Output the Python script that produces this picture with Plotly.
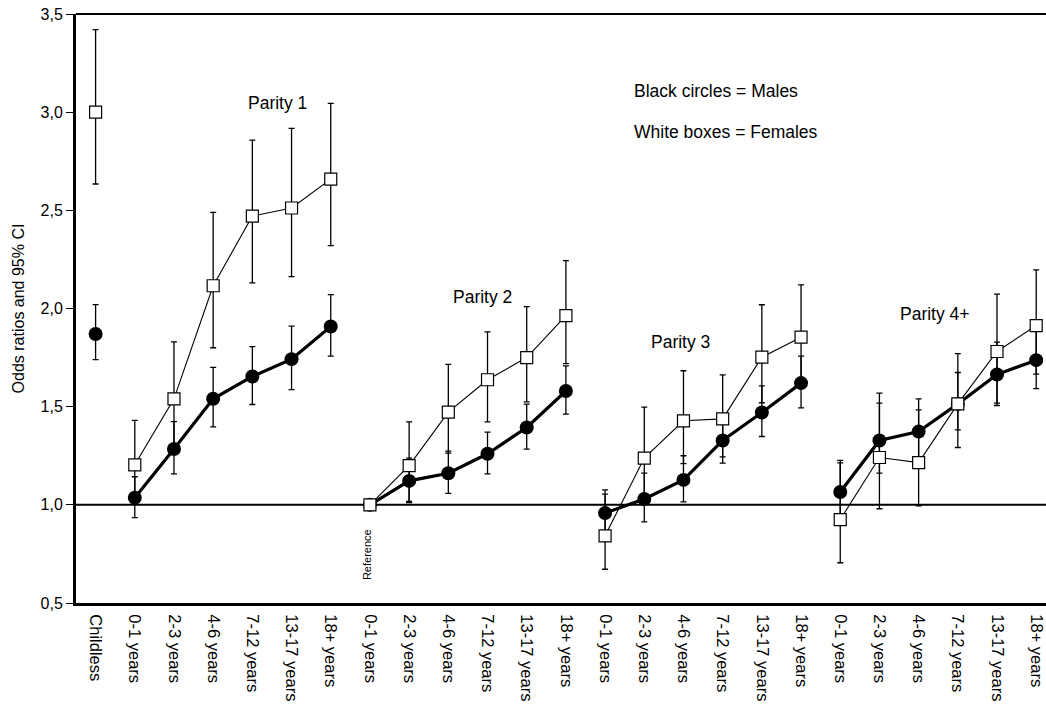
import plotly.graph_objects as go

categories = ["Childless",
              "0-1 years", "2-3 years", "4-6 years", "7-12 years", "13-17 years", "18+ years",
              "0-1 years", "2-3 years", "4-6 years", "7-12 years", "13-17 years", "18+ years",
              "0-1 years", "2-3 years", "4-6 years", "7-12 years", "13-17 years", "18+ years",
              "0-1 years", "2-3 years", "4-6 years", "7-12 years", "13-17 years", "18+ years"]

male_or = [1.87,
           1.036, 1.284, 1.54, 1.654, 1.742, 1.908,
           1.00, 1.122, 1.161, 1.26, 1.394, 1.58,
           0.958, 1.03, 1.127, 1.328, 1.47, 1.62,
           1.065, 1.328, 1.373, 1.514, 1.664, 1.737]
male_lo = [1.74,
           0.935, 1.158, 1.397, 1.511, 1.587, 1.757,
           1.00, 1.017, 1.058, 1.158, 1.284, 1.462,
           0.853, 0.913, 1.015, 1.212, 1.348, 1.494,
           0.925, 1.161, 1.224, 1.382, 1.518, 1.592]
male_hi = [2.02,
           1.143, 1.424, 1.70, 1.806, 1.91, 2.071,
           1.00, 1.238, 1.274, 1.37, 1.513, 1.708,
           1.076, 1.161, 1.25, 1.455, 1.606, 1.757,
           1.226, 1.518, 1.54, 1.674, 1.829, 1.895]

female_or = [3.00,
             1.204, 1.54, 2.116, 2.471, 2.512, 2.659,
             1.00, 1.20, 1.472, 1.637, 1.75, 1.964,
             0.842, 1.238, 1.428, 1.438, 1.752, 1.854,
             0.925, 1.241, 1.215, 1.514, 1.781, 1.913]
female_lo = [2.634,
             1.013, 1.296, 1.80, 2.131, 2.162, 2.32,
             1.00, 1.012, 1.263, 1.423, 1.524, 1.719,
             0.672, 1.023, 1.21, 1.244, 1.52, 1.62,
             0.705, 0.98, 0.995, 1.292, 1.506, 1.666]
female_hi = [3.42,
             1.43, 1.83, 2.49, 2.858, 2.917, 3.045,
             1.00, 1.423, 1.715, 1.881, 2.01, 2.244,
             1.055, 1.498, 1.683, 1.662, 2.019, 2.12,
             1.214, 1.569, 1.484, 1.77, 2.073, 2.197]

groups = [(0, 1), (1, 7), (7, 13), (13, 19), (19, 25)]
group_labels = ["Parity 1", "Parity 2", "Parity 3", "Parity 4+"]
ytick_vals = [0.5, 1.0, 1.5, 2.0, 2.5, 3.0, 3.5]
ytick_text = ["0,5", "1,0", "1,5", "2,0", "2,5", "3,0", "3,5"]

FONT = "Arial, Liberation Sans, sans-serif"

fig = go.Figure()


def add_series(vals, lo, hi, marker, line_width):
    for a, b in groups:
        xs = list(range(a, b))
        ys = vals[a:b]
        plus = [h - v for h, v in zip(hi[a:b], ys)]
        minus = [v - l for l, v in zip(lo[a:b], ys)]
        fig.add_trace(go.Scatter(
            x=xs, y=ys, mode="lines+markers",
            line=dict(color="black", width=line_width),
            marker=marker,
            error_y=dict(type="data", array=plus, arrayminus=minus,
                         color="black", thickness=1.3, width=3, visible=True),
            showlegend=False, hoverinfo="skip"))


add_series(male_or, male_lo, male_hi,
           dict(symbol="circle", size=14, color="black", line=dict(color="black", width=0)), 3.2)
add_series(female_or, female_lo, female_hi,
           dict(symbol="square", size=12, color="white", line=dict(color="black", width=1.2)), 1.1)

# reference line at 1.0
fig.add_shape(type="line", xref="paper", x0=0, x1=1, yref="y", y0=1.0, y1=1.0,
              line=dict(color="black", width=2), layer="below")
# top border
fig.add_shape(type="line", xref="paper", x0=0, x1=1, yref="paper", y0=1, y1=1,
              line=dict(color="black", width=2))

ann_font = dict(family=FONT, size=17.5, color="black")
fig.add_annotation(x=4.65, y=3.047, text=group_labels[0], showarrow=False, font=ann_font)
fig.add_annotation(x=9.87, y=2.06, text=group_labels[1], showarrow=False, font=ann_font)
fig.add_annotation(x=14.93, y=1.83, text=group_labels[2], showarrow=False, font=ann_font)
fig.add_annotation(x=21.42, y=1.97, text=group_labels[3], showarrow=False, font=ann_font)
fig.add_annotation(x=13.68, y=3.108, text="Black circles = Males", showarrow=False,
                   font=ann_font, xanchor="left")
fig.add_annotation(x=13.68, y=2.90, text="White boxes = Females", showarrow=False,
                   font=ann_font, xanchor="left")
fig.add_annotation(x=6.93, y=0.745, text="Reference", showarrow=False, textangle=-90,
                   font=dict(family=FONT, size=11, color="black"))

fig.update_xaxes(range=[-0.5, 24.25], tickmode="array", tickvals=list(range(len(categories))),
                 ticktext=categories, tickangle=90, showgrid=False, zeroline=False,
                 showline=True, linecolor="black", linewidth=3, ticks="",
                 ticklabelstandoff=5,
                 tickfont=dict(family=FONT, size=16.5, color="black"))
fig.update_yaxes(range=[0.5, 3.5], tickmode="array", tickvals=ytick_vals, ticktext=ytick_text,
                 showgrid=False, zeroline=False, showline=True, linecolor="black", linewidth=3,
                 ticks="outside", ticklen=7, tickwidth=1, tickcolor="black",
                 tickfont=dict(family=FONT, size=16, color="black"),
                 title=dict(text="Odds ratios and 95% CI", standoff=12,
                            font=dict(family=FONT, size=16, color="black")))

fig.update_layout(width=1046, height=707, margin=dict(l=76, r=0, t=14, b=104),
                  plot_bgcolor="white", paper_bgcolor="white")

fig.write_html("out.html")
